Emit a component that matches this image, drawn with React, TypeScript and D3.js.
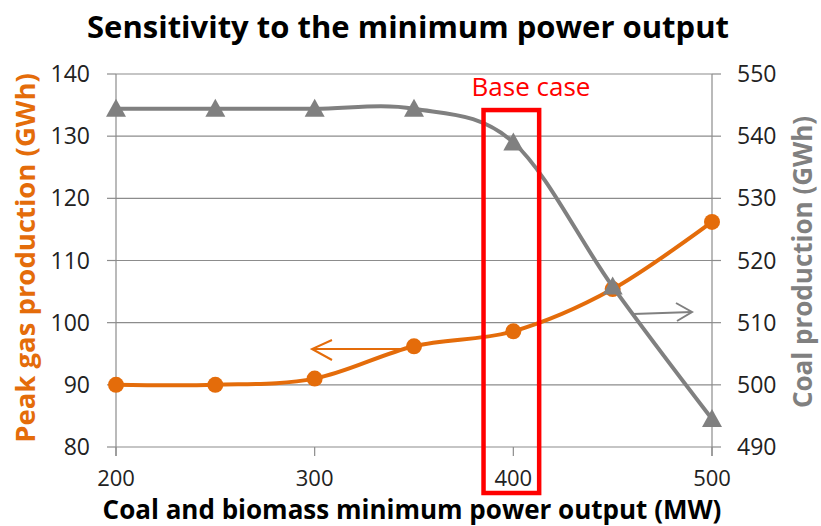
import React from "react";
import * as d3 from "d3";

const xValues = [200, 250, 300, 350, 400, 450, 500];
const peakGas = [90, 90, 91, 96.2, 98.6, 105.4, 116.2];
const coal = [544.4, 544.4, 544.4, 544.4, 539.0, 515.8, 494.5];
const xTicks = [200, 300, 400, 500];
const leftTicks = [80, 90, 100, 110, 120, 130, 140];
const rightTicks = [490, 500, 510, 520, 530, 540, 550];
const baseCase = { x0: 385, x1: 413, yTop: 134.2, yBottom: 72.6 };

const W = 821;
const H = 526;
const plot = { left: 116, right: 712, top: 74, bottom: 447 };
const ORANGE = "#E46C0A";
const GREY = "#808080";
const GRID = "#8c8c8c";
const FONT = "'Open Sans', Lato, sans-serif";

export default function App() {
  const x = d3.scaleLinear().domain([200, 500]).range([plot.left, plot.right]);
  const yL = d3.scaleLinear().domain([80, 140]).range([plot.bottom, plot.top]);
  const yR = d3.scaleLinear().domain([490, 550]).range([plot.bottom, plot.top]);
  const curve = d3.curveCardinal.tension(0);

  const gasLine = d3
    .line<number>()
    .x((_, i) => x(xValues[i]))
    .y((d) => yL(d))
    .curve(curve)(peakGas) as string;
  const coalLine = d3
    .line<number>()
    .x((_, i) => x(xValues[i]))
    .y((d) => yR(d))
    .curve(curve)(coal) as string;

  const tri = (cx: number, cy: number) => {
    const s = 10;
    return `M${cx},${cy - s} L${cx + s},${cy + s * 0.8} L${cx - s},${cy + s * 0.8} Z`;
  };

  return (
    <svg
      width={W}
      height={H}
      style={{ position: "absolute", left: 0, top: 0, background: "#fff" }}
      fontFamily={FONT}
    >
      <rect x={0} y={0} width={W} height={H} fill="#fff" />
      {/* title */}
      <text x={408} y={38} textAnchor="middle" fontSize={31} fontWeight="bold" fill="#000">
        Sensitivity to the minimum power output
      </text>

      {/* gridlines */}
      {leftTicks.map((t) => (
        <line key={"g" + t} x1={plot.left} x2={plot.right} y1={yL(t)} y2={yL(t)} stroke={GRID} strokeWidth={1.2} />
      ))}
      {/* left axis */}
      <line x1={plot.left} x2={plot.left} y1={plot.top} y2={plot.bottom + 9} stroke={GRID} strokeWidth={1.2} />
      {leftTicks.map((t) => (
        <g key={"l" + t}>
          <line x1={plot.left - 9} x2={plot.left} y1={yL(t)} y2={yL(t)} stroke={GRID} strokeWidth={1.2} />
          <text x={90} y={yL(t) + 8} textAnchor="end" fontSize={23} fill="#222">
            {t}
          </text>
        </g>
      ))}
      {/* right axis */}
      <line x1={plot.right} x2={plot.right} y1={plot.top} y2={plot.bottom + 9} stroke={GRID} strokeWidth={1.2} />
      {rightTicks.map((t) => (
        <g key={"r" + t}>
          <line x1={plot.right} x2={plot.right + 9} y1={yR(t)} y2={yR(t)} stroke={GRID} strokeWidth={1.2} />
          <text x={737} y={yR(t) + 8} textAnchor="start" fontSize={23} fill="#222">
            {t}
          </text>
        </g>
      ))}
      {/* x axis ticks */}
      {xTicks.map((t) => (
        <g key={"x" + t}>
          <line x1={x(t)} x2={x(t)} y1={plot.bottom} y2={plot.bottom + 9} stroke={GRID} strokeWidth={1.2} />
          <text x={x(t)} y={486} textAnchor="middle" fontSize={22} fill="#222">
            {t}
          </text>
        </g>
      ))}

      {/* axis titles */}
      <text x={412} y={519} textAnchor="middle" fontSize={26} fontWeight="bold" fill="#000">
        Coal and biomass minimum power output (MW)
      </text>
      <text
        transform={`translate(35,258) rotate(-90)`}
        textAnchor="middle"
        fontSize={27.5}
        fontWeight="bold"
        fill={ORANGE}
      >
        Peak gas production (GWh)
      </text>
      <text
        transform={`translate(812,262) rotate(-90)`}
        textAnchor="middle"
        fontSize={26}
        fontWeight="bold"
        fill={GREY}
      >
        Coal production (GWh)
      </text>

      {/* orange series */}
      <path d={gasLine} fill="none" stroke={ORANGE} strokeWidth={4} />
      {peakGas.map((v, i) => (
        <circle key={"c" + i} cx={x(xValues[i])} cy={yL(v)} r={8} fill={ORANGE} />
      ))}

      {/* grey series */}
      <path d={coalLine} fill="none" stroke={GREY} strokeWidth={4} />
      {coal.map((v, i) => (
        <path key={"t" + i} d={tri(x(xValues[i]), yR(v))} fill={GREY} />
      ))}

      {/* arrows */}
      <g fill="none" stroke={ORANGE} strokeWidth={2}>
        <line x1={x(347)} y1={349} x2={312} y2={349} />
        <polyline points={`332,340 312,349 332,360`} />
      </g>
      <g fill="none" stroke={GREY} strokeWidth={2}>
        <line x1={633} y1={314} x2={692} y2={312} />
        <polyline points={`676,303 692,312 677,321`} />
      </g>

      {/* base case annotation */}
      <rect
        x={x(baseCase.x0)}
        y={yL(baseCase.yTop)}
        width={x(baseCase.x1) - x(baseCase.x0)}
        height={yL(baseCase.yBottom) - yL(baseCase.yTop)}
        fill="none"
        stroke="#FF0000"
        strokeWidth={4.5}
      />
      <text x={531} y={96} textAnchor="middle" fontSize={26} fill="#FF0000">
        Base case
      </text>
    </svg>
  );
}
